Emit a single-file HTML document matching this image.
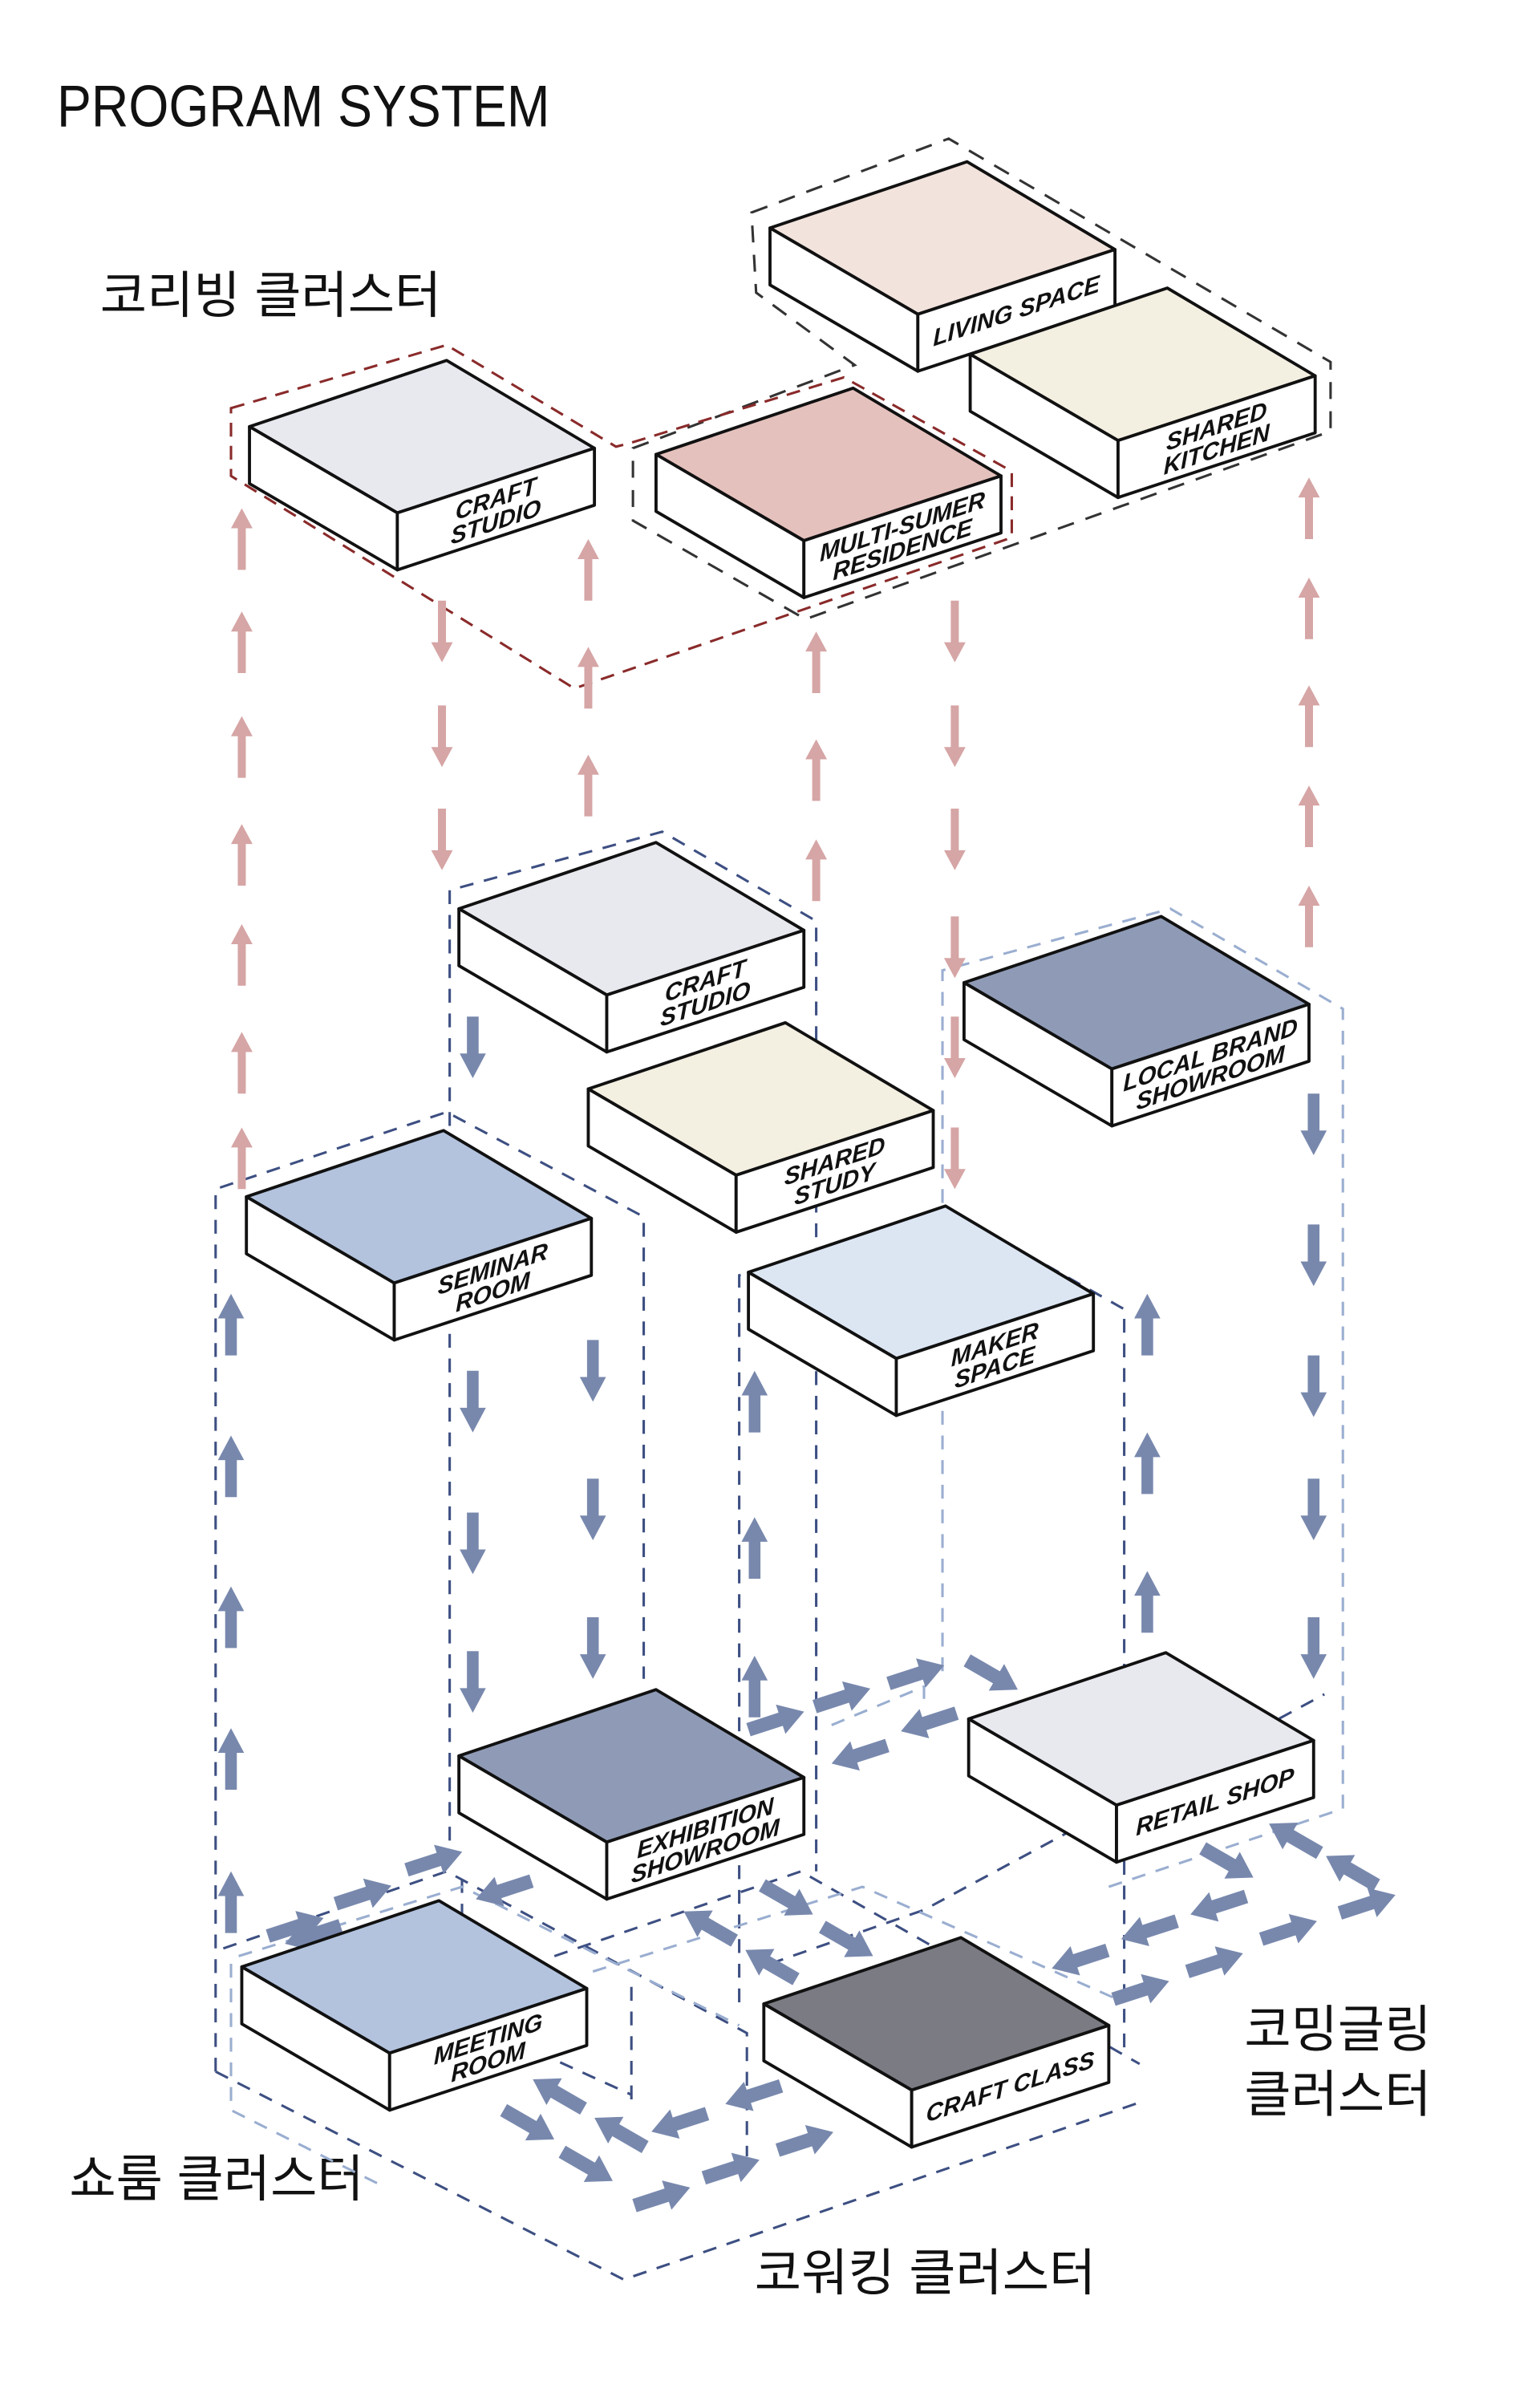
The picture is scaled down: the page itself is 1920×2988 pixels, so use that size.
<!DOCTYPE html>
<html><head><meta charset="utf-8"><style>
html,body{margin:0;padding:0;background:#fff}
svg{display:block}
.lbl{font-family:"Liberation Sans",sans-serif;font-weight:bold;font-style:italic;font-size:15.5px;fill:#111}
.kr{font-family:"Liberation Sans","Noto Sans CJK KR",sans-serif;font-size:33px;fill:#111}
</style></head><body>
<svg width="1920" height="2988" viewBox="0 0 1000 1556.25" xmlns="http://www.w3.org/2000/svg">
<defs>
<path id="pa" d="M-2.6,0 V-27 H-7 L0,-40 L7,-27 H2.6 V0Z" fill="#d6a5a5"/>
<path id="ba" d="M-3.8,0 V-24 H-8.5 L0,-40 L8.5,-24 H3.8 V0Z" fill="#7888ad"/>
<path id="bd" d="M0,-4.5 H22 V-10 L38,0 L22,10 V4.5 H0Z" fill="#7888ad"/>
</defs>

<text x="37" y="82" font-family="Liberation Sans,sans-serif" font-size="38" textLength="320" lengthAdjust="spacingAndGlyphs" fill="#111">PROGRAM SYSTEM</text>
<text class="kr" x="65" y="203">코리빙 클러스터</text>
<text class="kr" x="45" y="1426">쇼룸 클러스터</text>
<text class="kr" x="490" y="1487">코워킹 클러스터</text>
<text class="kr" x="808" y="1329">코밍글링</text>
<text class="kr" x="808" y="1371">클러스터</text>

<g fill="none" stroke-width="1.6">
<polygon points="488,138 616,90 864,235 864,280 523,402 411,338 411,291 555,237 491,190" stroke="#333" stroke-dasharray="11,8"/>
<polygon points="150,265 290,224 400,290 408,288 548,245 657,306 657,349 373,447 150,309" stroke="#8a2a2a" stroke-dasharray="9,6"/>
<g stroke="#3d4f82" stroke-dasharray="9,7">
<polyline points="292,1195 292,578 430,540 530,598 530,1215"/>
<polyline points="140,1345 140,772 290,722 418,790 418,1090"/>
<polyline points="480,1300 480,828 615,785 730,850 730,1330"/>
<polyline points="140,1345 405,1480 740,1365"/>
<polyline points="145,1265 290,1215 485,1320 485,1400"/>
<polyline points="300,1220 300,1310 410,1360"/>
<polyline points="360,1270 520,1215 740,1340"/>
<polyline points="500,1275 600,1240 860,1100"/>
<polyline points="410,1290 410,1370"/>
</g>
<g stroke="#9aaed0" stroke-dasharray="9,7">
<polyline points="612,1085 612,630 760,590 872,655 872,1175"/>
<polyline points="150,1275 150,1370 250,1420"/>
<polyline points="155,1270 300,1225 480,1315"/>
<polyline points="385,1280 560,1225 730,1300"/>
<polyline points="720,1225 870,1175"/>
<polyline points="540,1120 600,1095 600,1110"/>
</g>
</g>

<g>
<use href="#pa" x="157" y="370"/><use href="#pa" x="157" y="437"/><use href="#pa" x="157" y="505"/><use href="#pa" x="157" y="575"/><use href="#pa" x="157" y="640"/><use href="#pa" x="157" y="710"/><use href="#pa" x="157" y="772"/>
<use href="#pa" x="382" y="390"/><use href="#pa" x="382" y="460"/><use href="#pa" x="382" y="530"/>
<use href="#pa" x="530" y="450"/><use href="#pa" x="530" y="520"/><use href="#pa" x="530" y="585"/>
<use href="#pa" x="850" y="350"/><use href="#pa" x="850" y="415"/><use href="#pa" x="850" y="485"/><use href="#pa" x="850" y="550"/><use href="#pa" x="850" y="615"/>
<use href="#pa" transform="translate(287,390) rotate(180)"/><use href="#pa" transform="translate(287,458) rotate(180)"/><use href="#pa" transform="translate(287,525) rotate(180)"/>
<use href="#pa" transform="translate(620,390) rotate(180)"/><use href="#pa" transform="translate(620,458) rotate(180)"/><use href="#pa" transform="translate(620,525) rotate(180)"/><use href="#pa" transform="translate(620,595) rotate(180)"/><use href="#pa" transform="translate(620,660) rotate(180)"/><use href="#pa" transform="translate(620,732) rotate(180)"/>
</g>

<g>
<use href="#ba" x="150" y="880"/><use href="#ba" x="150" y="972"/><use href="#ba" x="150" y="1070"/><use href="#ba" x="150" y="1162"/><use href="#ba" x="150" y="1255"/>
<use href="#ba" x="490" y="930"/><use href="#ba" x="490" y="1025"/><use href="#ba" x="490" y="1115"/>
<use href="#ba" x="745" y="880"/><use href="#ba" x="745" y="970"/><use href="#ba" x="745" y="1060"/>
<use href="#ba" transform="translate(307,660) rotate(180)"/><use href="#ba" transform="translate(307,890) rotate(180)"/><use href="#ba" transform="translate(307,982) rotate(180)"/><use href="#ba" transform="translate(307,1072) rotate(180)"/>
<use href="#ba" transform="translate(385,870) rotate(180)"/><use href="#ba" transform="translate(385,960) rotate(180)"/><use href="#ba" transform="translate(385,1050) rotate(180)"/>
<use href="#ba" transform="translate(853,710) rotate(180)"/><use href="#ba" transform="translate(853,795) rotate(180)"/><use href="#ba" transform="translate(853,880) rotate(180)"/><use href="#ba" transform="translate(853,960) rotate(180)"/><use href="#ba" transform="translate(853,1050) rotate(180)"/>
</g>

<g>
<use href="#bd" transform="translate(174,1257) rotate(-18)"/>
<use href="#bd" transform="translate(218,1236) rotate(-18)"/>
<use href="#bd" transform="translate(264,1214) rotate(-18)"/>
<use href="#bd" transform="translate(185,1262) rotate(162) translate(-38,0)"/>
<use href="#bd" transform="translate(309,1233) rotate(162) translate(-38,0)"/>
<use href="#bd" transform="translate(486,1123) rotate(-18)"/>
<use href="#bd" transform="translate(529,1108) rotate(-18)"/>
<use href="#bd" transform="translate(577,1093) rotate(-18)"/>
<use href="#bd" transform="translate(628,1078) rotate(30)"/>
<use href="#bd" transform="translate(540,1145) rotate(162) translate(-38,0)"/>
<use href="#bd" transform="translate(585,1124) rotate(162) translate(-38,0)"/>
<use href="#bd" transform="translate(781,1200) rotate(30)"/>
<use href="#bd" transform="translate(824,1184) rotate(210) translate(-38,0)"/>
<use href="#bd" transform="translate(861,1205) rotate(210) translate(-38,0)"/>
<use href="#bd" transform="translate(870,1242) rotate(-18)"/>
<use href="#bd" transform="translate(773,1243) rotate(162) translate(-38,0)"/>
<use href="#bd" transform="translate(728,1259) rotate(162) translate(-38,0)"/>
<use href="#bd" transform="translate(683,1278) rotate(162) translate(-38,0)"/>
<use href="#bd" transform="translate(723,1298) rotate(-18)"/>
<use href="#bd" transform="translate(771,1280) rotate(-18)"/>
<use href="#bd" transform="translate(819,1259) rotate(-18)"/>
<use href="#bd" transform="translate(495,1224) rotate(30)"/>
<use href="#bd" transform="translate(534,1251) rotate(30)"/>
<use href="#bd" transform="translate(444,1241) rotate(210) translate(-38,0)"/>
<use href="#bd" transform="translate(484,1266) rotate(210) translate(-38,0)"/>
<use href="#bd" transform="translate(327,1370) rotate(30)"/>
<use href="#bd" transform="translate(365,1397) rotate(30)"/>
<use href="#bd" transform="translate(346,1350) rotate(210) translate(-38,0)"/>
<use href="#bd" transform="translate(386,1375) rotate(210) translate(-38,0)"/>
<use href="#bd" transform="translate(423,1384) rotate(162) translate(-38,0)"/>
<use href="#bd" transform="translate(471,1366) rotate(162) translate(-38,0)"/>
<use href="#bd" transform="translate(412,1432) rotate(-18)"/>
<use href="#bd" transform="translate(457,1414) rotate(-18)"/>
<use href="#bd" transform="translate(505,1396) rotate(-18)"/>
</g>

<g stroke="#111" stroke-width="2" stroke-linejoin="round">
<g transform="translate(500,148)"><polygon points="0,0 128,-43 224,14 96,56" fill="#f2e3dd"/><polygon points="0,0 96,56 96,93 0,37" fill="#fff"/><polygon points="96,56 224,14 224,51 96,93" fill="#fff"/>
<text class="lbl" stroke="none" transform="translate(160,53) matrix(1,-0.33,0,1,0,0)" text-anchor="middle" y="6">LIVING SPACE</text></g>

<g transform="translate(630,230)"><polygon points="0,0 128,-43 224,14 96,56" fill="#f3efe1"/><polygon points="0,0 96,56 96,93 0,37" fill="#fff"/><polygon points="96,56 224,14 224,51 96,93" fill="#fff"/>
<text class="lbl" stroke="none" transform="translate(160,53) matrix(1,-0.33,0,1,0,0)" text-anchor="middle"><tspan x="0" y="-1">SHARED</tspan><tspan x="0" y="14">KITCHEN</tspan></text></g>

<g transform="translate(162,277)"><polygon points="0,0 128,-43 224,14 96,56" fill="#e8e9ef"/><polygon points="0,0 96,56 96,93 0,37" fill="#fff"/><polygon points="96,56 224,14 224,51 96,93" fill="#fff"/>
<text class="lbl" stroke="none" transform="translate(160,53) matrix(1,-0.33,0,1,0,0)" text-anchor="middle"><tspan x="0" y="-1">CRAFT</tspan><tspan x="0" y="14">STUDIO</tspan></text></g>

<g transform="translate(426,295)"><polygon points="0,0 128,-43 224,14 96,56" fill="#e5c1bd"/><polygon points="0,0 96,56 96,93 0,37" fill="#fff"/><polygon points="96,56 224,14 224,51 96,93" fill="#fff"/>
<text class="lbl" stroke="none" transform="translate(160,53) matrix(1,-0.33,0,1,0,0)" text-anchor="middle"><tspan x="0" y="-1">MULTI-SUMER</tspan><tspan x="0" y="14">RESIDENCE</tspan></text></g>

<g transform="translate(298,590)"><polygon points="0,0 128,-43 224,14 96,56" fill="#e8e9ef"/><polygon points="0,0 96,56 96,93 0,37" fill="#fff"/><polygon points="96,56 224,14 224,51 96,93" fill="#fff"/>
<text class="lbl" stroke="none" transform="translate(160,53) matrix(1,-0.33,0,1,0,0)" text-anchor="middle"><tspan x="0" y="-1">CRAFT</tspan><tspan x="0" y="14">STUDIO</tspan></text></g>

<g transform="translate(382,707)"><polygon points="0,0 128,-43 224,14 96,56" fill="#f3efe1"/><polygon points="0,0 96,56 96,93 0,37" fill="#fff"/><polygon points="96,56 224,14 224,51 96,93" fill="#fff"/>
<text class="lbl" stroke="none" transform="translate(160,53) matrix(1,-0.33,0,1,0,0)" text-anchor="middle"><tspan x="0" y="-1">SHARED</tspan><tspan x="0" y="14">STUDY</tspan></text></g>

<g transform="translate(626,638)"><polygon points="0,0 128,-43 224,14 96,56" fill="#8f9bb6"/><polygon points="0,0 96,56 96,93 0,37" fill="#fff"/><polygon points="96,56 224,14 224,51 96,93" fill="#fff"/>
<text class="lbl" stroke="none" transform="translate(160,53) matrix(1,-0.33,0,1,0,0)" text-anchor="middle"><tspan x="0" y="-1">LOCAL BRAND</tspan><tspan x="0" y="14">SHOWROOM</tspan></text></g>

<g transform="translate(160,777)"><polygon points="0,0 128,-43 224,14 96,56" fill="#b3c3de"/><polygon points="0,0 96,56 96,93 0,37" fill="#fff"/><polygon points="96,56 224,14 224,51 96,93" fill="#fff"/>
<text class="lbl" stroke="none" transform="translate(160,53) matrix(1,-0.33,0,1,0,0)" text-anchor="middle"><tspan x="0" y="-1">SEMINAR</tspan><tspan x="0" y="14">ROOM</tspan></text></g>

<g transform="translate(486,826)"><polygon points="0,0 128,-43 224,14 96,56" fill="#dce6f3"/><polygon points="0,0 96,56 96,93 0,37" fill="#fff"/><polygon points="96,56 224,14 224,51 96,93" fill="#fff"/>
<text class="lbl" stroke="none" transform="translate(160,53) matrix(1,-0.33,0,1,0,0)" text-anchor="middle"><tspan x="0" y="-1">MAKER</tspan><tspan x="0" y="14">SPACE</tspan></text></g>

<g transform="translate(298,1140)"><polygon points="0,0 128,-43 224,14 96,56" fill="#8f9bb6"/><polygon points="0,0 96,56 96,93 0,37" fill="#fff"/><polygon points="96,56 224,14 224,51 96,93" fill="#fff"/>
<text class="lbl" stroke="none" transform="translate(160,53) matrix(1,-0.33,0,1,0,0)" text-anchor="middle"><tspan x="0" y="-1">EXHIBITION</tspan><tspan x="0" y="14">SHOWROOM</tspan></text></g>

<g transform="translate(629,1116)"><polygon points="0,0 128,-43 224,14 96,56" fill="#e8e9ef"/><polygon points="0,0 96,56 96,93 0,37" fill="#fff"/><polygon points="96,56 224,14 224,51 96,93" fill="#fff"/>
<text class="lbl" stroke="none" transform="translate(160,53) matrix(1,-0.33,0,1,0,0)" text-anchor="middle" y="6">RETAIL SHOP</text></g>

<g transform="translate(157,1277)"><polygon points="0,0 128,-43 224,14 96,56" fill="#b3c3de"/><polygon points="0,0 96,56 96,93 0,37" fill="#fff"/><polygon points="96,56 224,14 224,51 96,93" fill="#fff"/>
<text class="lbl" stroke="none" transform="translate(160,53) matrix(1,-0.33,0,1,0,0)" text-anchor="middle"><tspan x="0" y="-1">MEETING</tspan><tspan x="0" y="14">ROOM</tspan></text></g>

<g transform="translate(496,1301)"><polygon points="0,0 128,-43 224,14 96,56" fill="#7a7b83"/><polygon points="0,0 96,56 96,93 0,37" fill="#fff"/><polygon points="96,56 224,14 224,51 96,93" fill="#fff"/>
<text class="lbl" stroke="none" transform="translate(160,53) matrix(1,-0.33,0,1,0,0)" text-anchor="middle" y="6">CRAFT CLASS</text></g>
</g>
</svg>
</body></html>
